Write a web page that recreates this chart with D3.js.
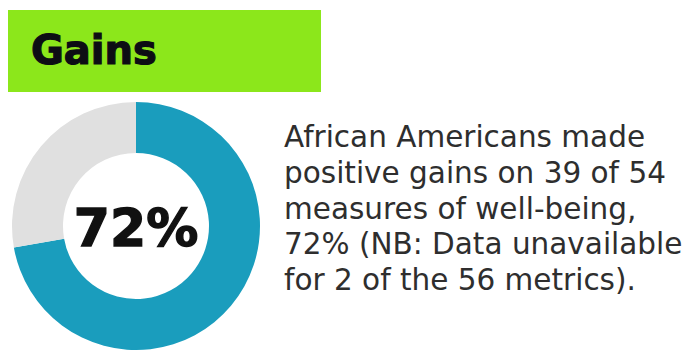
<!DOCTYPE html>
<html>
<head>
<meta charset="utf-8">
<script src="https://cdn.jsdelivr.net/npm/d3@7"></script>
<style>
  html, body { margin: 0; padding: 0; background: #ffffff; }
  svg { display: block; }
</style>
</head>
<body>
<svg id="chart" width="692" height="350"></svg>
<script>
// Share of well-being measures with positive gains
const title = "Gains";
const segmentNames = ["gained", "not gained"];
const measuresGained = 39;
const measuresWithData = 54;
const segmentValues = [measuresGained, measuresWithData - measuresGained];
const segmentColors = ["#1a9dbd", "#e0e0e0"];
const noteLines = [
  "African Americans made",
  "positive gains on 39 of 54",
  "measures of well-being,",
  "72% (NB: Data unavailable",
  "for 2 of the 56 metrics)."
];

const svg = d3.select("#chart");

// Header banner
svg.append("rect")
  .attr("x", 8).attr("y", 10)
  .attr("width", 313).attr("height", 82)
  .attr("fill", "#8ce71b");

svg.append("text")
  .attr("x", 31).attr("y", 64)
  .attr("font-family", "DejaVu Sans")
  .attr("font-weight", "bold")
  .attr("font-size", 40)
  .attr("fill", "#0d0d14")
  .attr("stroke", "#0d0d14")
  .attr("stroke-width", 1.2)
  .text(title);

// Donut
const cx = 136, cy = 226;
const outerR = 124, innerR = 73;

const pie = d3.pie().sort(null).value(d => d);
const arc = d3.arc().innerRadius(innerR).outerRadius(outerR);

const g = svg.append("g").attr("transform", `translate(${cx},${cy})`);
g.selectAll("path")
  .data(pie(segmentValues))
  .join("path")
  .attr("d", arc)
  .attr("fill", (d, i) => segmentColors[i]);

g.append("text")
  .attr("text-anchor", "middle")
  .attr("y", 20)
  .attr("font-family", "DejaVu Sans")
  .attr("font-weight", "bold")
  .attr("font-size", 52)
  .attr("fill", "#111111")
  .attr("stroke", "#111111")
  .attr("stroke-width", 1.4)
  .text(d3.format(".0%")(measuresGained / measuresWithData));

// Note text
svg.append("g")
  .selectAll("text")
  .data(noteLines)
  .join("text")
  .attr("x", 284)
  .attr("y", (d, i) => 147 + i * 35.8)
  .attr("font-family", "DejaVu Sans")
  .attr("font-size", 29.5)
  .attr("fill", "#2e2e2e")
  .text(d => d);
</script>
</body>
</html>
